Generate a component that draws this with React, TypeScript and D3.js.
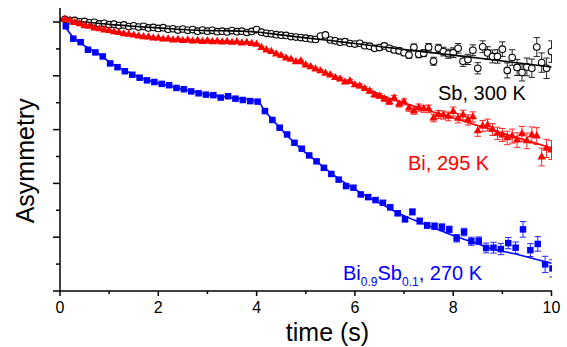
import React from 'react';
import * as d3 from 'd3';

const W = 567;
const H = 347;

// time grid (s) shared by the Sb and Bi histograms
const fineTime = [
  0.1, 0.2, 0.3, 0.4, 0.5, 0.6, 0.7, 0.8, 0.9, 1.0,
  1.1, 1.2, 1.3, 1.4, 1.5, 1.6, 1.7, 1.8, 1.9, 2.0,
  2.1, 2.2, 2.3, 2.4, 2.5, 2.6, 2.7, 2.8, 2.9, 3.0,
  3.1, 3.2, 3.3, 3.4, 3.5, 3.6, 3.7, 3.8, 3.9, 4.0,
  4.1, 4.2, 4.3, 4.4, 4.5, 4.6, 4.7, 4.8, 4.9, 5.0,
  5.1, 5.2, 5.3, 5.4, 5.5, 5.6, 5.7, 5.8, 5.9, 6.0,
  6.1, 6.2, 6.3, 6.4, 6.5, 6.6, 6.7, 6.8, 6.9, 7.0,
  7.1, 7.2, 7.3, 7.4, 7.5, 7.6, 7.7, 7.8, 7.9, 8.0,
  8.1, 8.2, 8.3, 8.4, 8.5, 8.6, 8.7, 8.8, 8.9, 9.0,
  9.1, 9.2, 9.3, 9.4, 9.5, 9.6, 9.7, 9.8, 9.9, 10.0,
];

// Sb, 300 K
const sbValues = [
  10.10, 10.05, 10.06, 10.01, 10.02, 9.97, 9.99, 9.93, 9.95, 9.90,
  9.92, 9.87, 9.89, 9.83, 9.86, 9.81, 9.84, 9.78, 9.80, 9.76,
  9.79, 9.73, 9.75, 9.70, 9.74, 9.69, 9.72, 9.66, 9.70, 9.66,
  9.69, 9.64, 9.66, 9.63, 9.68, 9.64, 9.66, 9.61, 9.65, 9.72,
  9.62, 9.58, 9.56, 9.53, 9.51, 9.50, 9.46, 9.44, 9.42, 9.40,
  9.37, 9.35, 9.48, 9.52, 9.33, 9.30, 9.25, 9.27, 9.20, 9.18,
  9.21, 9.12, 9.10, 9.02, 9.05, 9.11, 9.02, 8.96, 8.93, 8.86,
  8.77, 9.06, 8.80, 8.84, 9.06, 8.54, 9.02, 8.90, 8.82, 8.86,
  9.02, 8.54, 8.61, 8.95, 8.28, 9.08, 8.85, 8.72, 8.72, 8.99,
  8.20, 8.68, 8.31, 8.12, 8.33, 8.28, 9.07, 8.49, 8.28, 8.90,
];
const sbErrors = [
  0.03, 0.03, 0.03, 0.03, 0.03, 0.03, 0.03, 0.03, 0.03, 0.03,
  0.03, 0.03, 0.03, 0.03, 0.03, 0.03, 0.03, 0.03, 0.03, 0.03,
  0.03, 0.03, 0.03, 0.03, 0.03, 0.03, 0.03, 0.03, 0.03, 0.03,
  0.03, 0.03, 0.03, 0.03, 0.03, 0.03, 0.03, 0.03, 0.03, 0.03,
  0.04, 0.04, 0.04, 0.04, 0.04, 0.04, 0.04, 0.04, 0.04, 0.04,
  0.05, 0.05, 0.05, 0.05, 0.05, 0.06, 0.06, 0.06, 0.06, 0.06,
  0.07, 0.07, 0.08, 0.08, 0.09, 0.09, 0.10, 0.10, 0.11, 0.11,
  0.12, 0.12, 0.13, 0.13, 0.14, 0.15, 0.15, 0.16, 0.17, 0.18,
  0.18, 0.19, 0.19, 0.20, 0.21, 0.22, 0.23, 0.24, 0.25, 0.27,
  0.28, 0.29, 0.30, 0.31, 0.33, 0.34, 0.35, 0.36, 0.38, 0.40,
];

// Bi, 295 K
const biValues = [
  10.10, 10.06, 9.98, 9.93, 9.86, 9.84, 9.77, 9.75, 9.70, 9.68,
  9.63, 9.61, 9.56, 9.54, 9.51, 9.48, 9.45, 9.44, 9.40, 9.40,
  9.36, 9.37, 9.33, 9.35, 9.31, 9.33, 9.29, 9.31, 9.27, 9.30,
  9.26, 9.28, 9.25, 9.27, 9.24, 9.26, 9.22, 9.24, 9.20, 9.17,
  9.05, 8.96, 8.90, 8.81, 8.75, 8.66, 8.61, 8.52, 8.55, 8.40,
  8.33, 8.25, 8.18, 8.09, 8.03, 7.93, 7.88, 7.77, 7.80, 7.66,
  7.62, 7.52, 7.43, 7.29, 7.25, 7.14, 7.03, 7.17, 6.95, 7.03,
  6.80, 6.69, 6.82, 6.77, 6.77, 6.43, 6.56, 6.54, 6.49, 6.67,
  6.42, 6.54, 6.36, 6.47, 5.95, 6.13, 6.17, 6.00, 5.86, 5.80,
  5.69, 5.76, 5.61, 5.84, 5.58, 5.80, 5.76, 4.98, 5.30, 5.24,
];
const biErrors = [
  0.03, 0.03, 0.03, 0.03, 0.03, 0.03, 0.03, 0.03, 0.03, 0.03,
  0.03, 0.03, 0.03, 0.03, 0.03, 0.03, 0.03, 0.03, 0.03, 0.03,
  0.03, 0.03, 0.03, 0.03, 0.03, 0.03, 0.03, 0.03, 0.03, 0.03,
  0.03, 0.03, 0.03, 0.03, 0.03, 0.03, 0.03, 0.03, 0.03, 0.03,
  0.04, 0.04, 0.04, 0.04, 0.04, 0.04, 0.04, 0.04, 0.04, 0.04,
  0.05, 0.05, 0.05, 0.05, 0.05, 0.06, 0.06, 0.06, 0.06, 0.06,
  0.07, 0.07, 0.08, 0.08, 0.09, 0.09, 0.10, 0.10, 0.11, 0.11,
  0.12, 0.12, 0.13, 0.13, 0.14, 0.14, 0.15, 0.15, 0.16, 0.17,
  0.17, 0.18, 0.19, 0.19, 0.20, 0.21, 0.22, 0.22, 0.23, 0.24,
  0.25, 0.26, 0.27, 0.28, 0.29, 0.30, 0.31, 0.33, 0.34, 0.35,
];

// Bi0.9Sb0.1, 270 K (coarser binning)
const alloyTime = [
  0.12, 0.27, 0.42, 0.57, 0.72, 0.87, 1.02, 1.17, 1.32, 1.47,
  1.62, 1.77, 1.92, 2.07, 2.22, 2.37, 2.52, 2.67, 2.82, 2.97,
  3.12, 3.27, 3.42, 3.57, 3.72, 3.87, 4.02, 4.17, 4.32, 4.47,
  4.62, 4.77, 4.92, 5.07, 5.22, 5.37, 5.52, 5.67, 5.82, 5.97,
  6.12, 6.27, 6.42, 6.57, 6.72, 6.87, 7.02, 7.17, 7.32, 7.47,
  7.62, 7.77, 7.92, 8.07, 8.22, 8.37, 8.52, 8.67, 8.82, 8.97,
  9.12, 9.27, 9.42, 9.57, 9.72, 9.87, 10.02,
];
const alloyValues = [
  9.84, 9.38, 9.25, 8.97, 8.87, 8.72, 8.46, 8.32, 8.17, 8.04,
  7.93, 7.83, 7.77, 7.70, 7.65, 7.55, 7.50, 7.42, 7.35, 7.30,
  7.28, 7.19, 7.24, 7.15, 7.10, 7.06, 7.04, 6.69, 6.36, 6.07,
  5.82, 5.51, 5.29, 5.04, 4.82, 4.58, 4.35, 4.14, 3.90, 3.84,
  3.59, 3.49, 3.38, 3.28, 3.11, 2.89, 2.67, 2.94, 2.60, 2.44,
  2.41, 2.37, 2.29, 1.96, 2.19, 1.85, 1.87, 1.60, 1.61, 1.56,
  1.78, 1.61, 2.29, 1.52, 1.75, 0.99, 0.84,
];
const alloyErrors = [
  0.03, 0.03, 0.03, 0.03, 0.03, 0.03, 0.03, 0.03, 0.03, 0.03,
  0.03, 0.03, 0.03, 0.03, 0.03, 0.03, 0.03, 0.03, 0.03, 0.03,
  0.03, 0.03, 0.03, 0.03, 0.03, 0.03, 0.03, 0.03, 0.03, 0.04,
  0.04, 0.04, 0.04, 0.05, 0.05, 0.05, 0.05, 0.06, 0.06, 0.06,
  0.07, 0.07, 0.08, 0.08, 0.09, 0.09, 0.10, 0.11, 0.11, 0.11,
  0.12, 0.13, 0.12, 0.14, 0.14, 0.15, 0.14, 0.18, 0.20, 0.21,
  0.21, 0.21, 0.29, 0.24, 0.27, 0.30, 0.32,
];

// fitted curves [t, asymmetry]
const sbFit = [
  [0, 10.09], [0.5, 10.0], [1, 9.91], [1.5, 9.84], [2, 9.78], [2.5, 9.72],
  [3, 9.68], [3.5, 9.67], [4, 9.63], [4.5, 9.52], [5, 9.41], [5.5, 9.31],
  [6, 9.2], [6.5, 9.09], [7, 8.98], [7.5, 8.87], [8, 8.77], [8.5, 8.66],
  [9, 8.55], [9.5, 8.44], [10, 8.33],
];
const biFit = [
  [0, 10.13], [0.25, 10.02], [0.5, 9.87], [1, 9.67], [1.5, 9.5], [2, 9.39],
  [2.5, 9.33], [3, 9.29], [3.5, 9.25], [4, 9.17], [4.2, 8.96], [4.55, 8.7],
  [4.88, 8.48], [5.23, 8.22], [5.6, 7.94], [5.95, 7.7], [6.25, 7.51],
  [6.6, 7.23], [7, 6.99], [7.5, 6.71], [8, 6.43], [8.5, 6.15], [9, 5.87],
  [9.5, 5.59], [10, 5.32],
];
const alloyFit = [
  [0.1, 9.86], [0.2, 9.58], [0.3, 9.38], [0.45, 9.18], [0.6, 9.0], [0.8, 8.8],
  [1, 8.52], [1.25, 8.26], [1.5, 8.04], [1.75, 7.86], [2, 7.73], [2.5, 7.5],
  [3, 7.31], [3.5, 7.19], [4.02, 7.05], [4.17, 6.69], [4.47, 6.07],
  [4.89, 5.3], [5.23, 4.8], [5.57, 4.31], [5.9, 3.9], [6.25, 3.51],
  [6.6, 3.18], [6.92, 2.86], [7.2, 2.64], [7.6, 2.36], [8, 2.06],
  [8.4, 1.82], [8.8, 1.56], [9.2, 1.4], [9.6, 1.22], [10, 1.03],
];

const xMajor = [0, 2, 4, 6, 8, 10];
const xMinor = [1, 3, 5, 7, 9];
const yMajor = [0, 2, 4, 6, 8, 10];
const yMinor = [1, 3, 5, 7, 9];

const FONT = 'Arial, "Liberation Sans", Helvetica, sans-serif';

export default function App() {
  const x = d3.scaleLinear().domain([0, 10]).range([60, 551.5]);
  const y = d3.scaleLinear().domain([0, 10.5]).range([291, 8.55]);
  const fitLine = d3
    .line<number[]>()
    .x(d => x(d[0]))
    .y(d => y(d[1]))
    .curve(d3.curveMonotoneX);
  const triPath = d3.symbol(d3.symbolTriangle, 30)() as string;
  const sqPath = d3.symbol(d3.symbolSquare, 42)() as string;

  const errorBars = (times: number[], vals: number[], errs: number[], color: string) =>
    times.map((t, i) => {
      const cx = x(t);
      const y1 = y(vals[i] + errs[i]);
      const y2 = y(vals[i] - errs[i]);
      return (
        <g key={i} stroke={color} strokeWidth={1}>
          <line x1={cx} x2={cx} y1={y1} y2={y2} />
          <line x1={cx - 3.2} x2={cx + 3.2} y1={y1} y2={y1} />
          <line x1={cx - 3.2} x2={cx + 3.2} y1={y2} y2={y2} />
        </g>
      );
    });

  return (
    <svg
      width={W}
      height={H}
      style={{ position: 'absolute', left: 0, top: 0, background: '#fff' }}
      fontFamily={FONT}
    >
      <defs>
        <clipPath id="plotClip">
          <rect x={50} y={0} width={552 - 50} height={295} />
        </clipPath>
      </defs>

      <g clipPath="url(#plotClip)">
        {/* Sb */}
        <g opacity={0.85}>{errorBars(fineTime, sbValues, sbErrors, '#000')}</g>
        {fineTime.map((t, i) => (
          <circle key={i} cx={x(t)} cy={y(sbValues[i])} r={3.3} fill="#fff" stroke="#000" strokeWidth={1.1} />
        ))}
        <path d={fitLine(sbFit) as string} fill="none" stroke="#000" strokeWidth={1.6} />

        {/* Bi */}
        <g opacity={0.85}>{errorBars(fineTime, biValues, biErrors, '#ff0000')}</g>
        {fineTime.map((t, i) => (
          <path key={i} d={triPath} transform={`translate(${x(t)},${y(biValues[i])})`} fill="#ff0000" />
        ))}
        <path d={fitLine(biFit) as string} fill="none" stroke="#ff0000" strokeWidth={1.6} />

        {/* Bi0.9Sb0.1 */}
        <g opacity={0.85}>{errorBars(alloyTime, alloyValues, alloyErrors, '#0000ff')}</g>
        {alloyTime.map((t, i) => (
          <path key={i} d={sqPath} transform={`translate(${x(t)},${y(alloyValues[i])})`} fill="#0000ff" />
        ))}
        <path d={fitLine(alloyFit) as string} fill="none" stroke="#0000ff" strokeWidth={1.6} />
      </g>

      {/* axes */}
      <g stroke="#000" strokeWidth={1.5}>
        <line x1={60} x2={60} y1={8} y2={291.7} />
        <line x1={59.3} x2={552} y1={291} y2={291} />
        {xMajor.map(t => (
          <line key={'xM' + t} x1={x(t)} x2={x(t)} y1={291} y2={296} />
        ))}
        {xMinor.map(t => (
          <line key={'xm' + t} x1={x(t)} x2={x(t)} y1={291} y2={294} />
        ))}
        {yMajor.map(v => (
          <line key={'yM' + v} x1={53} x2={60} y1={y(v)} y2={y(v)} />
        ))}
        {yMinor.map(v => (
          <line key={'ym' + v} x1={56} x2={60} y1={y(v)} y2={y(v)} />
        ))}
      </g>
      {xMajor.map(t => (
        <text key={'xl' + t} x={x(t)} y={313} fontSize={16} textAnchor="middle" fill="#000">
          {t}
        </text>
      ))}

      <text x={327.5} y={341} fontSize={25} textAnchor="middle" fill="#000">
        time (s)
      </text>
      <text transform="translate(34,160.8) rotate(-90)" fontSize={25} textAnchor="middle" fill="#000">
        Asymmetry
      </text>

      {/* series labels */}
      <text x={438} y={100} fontSize={20} fill="#000">
        Sb, 300 K
      </text>
      <text x={408} y={170} fontSize={20} fill="#ff0000">
        Bi, 295 K
      </text>
      <text x={343} y={280} fontSize={20} fill="#0000ff">
        Bi
        <tspan fontSize={12} dy={6}>0.9</tspan>
        <tspan dy={-6}>Sb</tspan>
        <tspan fontSize={12} dy={6}>0.1</tspan>
        <tspan dy={-6}>, 270 K</tspan>
      </text>
    </svg>
  );
}
